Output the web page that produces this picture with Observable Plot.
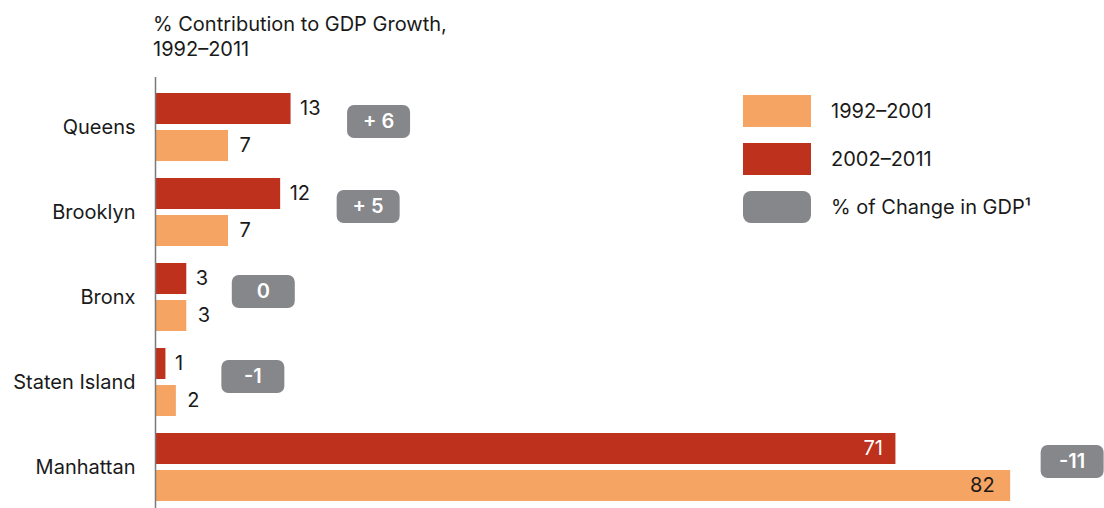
<!DOCTYPE html>
<html><head><meta charset="utf-8">
<script src="https://cdn.jsdelivr.net/npm/d3@7"></script>
<script src="https://cdn.jsdelivr.net/npm/@observablehq/plot@0.6"></script>
<style>
html,body{margin:0;padding:0;background:#fff;overflow:hidden;width:1104px;height:508px}
body{font-family:Inter,"Open Sans",sans-serif;color:#1a1a1a;position:relative}
#title{position:absolute;left:153px;top:12px;font-size:20px;line-height:25px;z-index:2}
#legend{position:absolute;left:743px;top:95px;font-size:20px;z-index:2}
.row{display:flex;align-items:center;height:32px;margin-bottom:16px}
.sw{width:68px;height:32px;margin-right:20px}
#chart svg{display:block}
</style></head>
<body>
<div id="title">% Contribution to GDP Growth,<br>1992–2011</div>
<div id="legend"></div>
<div id="chart"></div>
<script>
const boroughs = ["Queens", "Brooklyn", "Bronx", "Staten Island", "Manhattan"];
const share2002_2011 = [13, 12, 3, 1, 71];
const share1992_2001 = [7, 7, 3, 2, 82];
const gdpChange = ["+ 6", "+ 5", "0", "-1", "-11"];
const legendLabels = ["1992–2001", "2002–2011", "% of Change in GDP¹"];

const orange = "#f6a463", red = "#bd311d", gray = "#86878b", ink = "#1a1a1a";

const rows = boroughs.map((b, i) => ({
  borough: b, late: share2002_2011[i], early: share1992_2001[i], change: gdpChange[i]
}));

const BAR_H = 31, GAP = 6, OFF = (BAR_H + GAP) / 2, FS = 20;
const inside = v => v > 40;

const badgeSymbol = {draw(ctx) {
  const w = 63, h = 33, r = 7, x0 = -w / 2, y0 = -h / 2;
  ctx.moveTo(x0 + r, y0); ctx.lineTo(x0 + w - r, y0);
  ctx.arcTo(x0 + w, y0, x0 + w, y0 + r, r); ctx.lineTo(x0 + w, y0 + h - r);
  ctx.arcTo(x0 + w, y0 + h, x0 + w - r, y0 + h, r); ctx.lineTo(x0 + r, y0 + h);
  ctx.arcTo(x0, y0 + h, x0, y0 + h - r, r); ctx.lineTo(x0, y0 + r);
  ctx.arcTo(x0, y0, x0 + r, y0, r); ctx.closePath();
}};

const badgeMarks = rows.flatMap(d => {
  const m = Math.max(d.late, d.early);
  const chars = Math.max(String(d.late).length, String(d.early).length);
  const left = inside(m) ? 30 : 12 + chars * 11 + 22;
  const dx = left + 31.5;
  const xv = () => m;
  return [
    Plot.dot([d], {x: xv, y: "borough", dx, dy: -6, symbol: badgeSymbol, fill: gray, stroke: "none"}),
    Plot.text([d], {x: xv, y: "borough", dx, dy: -6, text: "change", fill: "white", fontWeight: 600, fontSize: FS})
  ];
});

const chart = Plot.plot({
  width: 1104, height: 518,
  marginLeft: 155, marginRight: 0, marginTop: 75, marginBottom: 0,
  style: {fontFamily: "Inter, 'Open Sans', sans-serif", fontSize: FS + "px", color: ink, background: "white"},
  x: {domain: [0, 91], axis: null},
  y: {domain: boroughs, padding: 0.2, label: null},
  marks: [
    Plot.axisY({tickSize: 0, tickPadding: 20, fontSize: FS, label: null}),
    Plot.barX(rows, {y: "borough", x: "late", fill: red, insetBottom: BAR_H + GAP}),
    Plot.barX(rows, {y: "borough", x: "early", fill: orange, insetTop: BAR_H + GAP}),
    Plot.ruleX([0], {stroke: "#7a7a7a", strokeWidth: 1.5, insetTop: 2}),
    Plot.text(rows.filter(d => !inside(d.late)), {y: "borough", x: "late", text: d => String(d.late), dx: 9, dy: -OFF, textAnchor: "start", fill: ink, fontSize: FS}),
    Plot.text(rows.filter(d => !inside(d.early)), {y: "borough", x: "early", text: d => String(d.early), dx: 11, dy: OFF, textAnchor: "start", fill: ink, fontSize: FS}),
    Plot.text(rows.filter(d => inside(d.late)), {y: "borough", x: "late", text: d => String(d.late), dx: -13, dy: -OFF, textAnchor: "end", fill: "white", fontSize: FS}),
    Plot.text(rows.filter(d => inside(d.early)), {y: "borough", x: "early", text: d => String(d.early), dx: -16, dy: OFF, textAnchor: "end", fill: ink, fontSize: FS}),
    ...badgeMarks
  ]
});
document.getElementById("chart").appendChild(chart);

const legendColors = [orange, red, gray];
document.getElementById("legend").innerHTML = legendLabels.map((l, i) =>
  `<div class="row"><div class="sw" style="background:${legendColors[i]};border-radius:${i === 2 ? 8 : 0}px"></div><span>${l}</span></div>`
).join("");
</script>
</body></html>
